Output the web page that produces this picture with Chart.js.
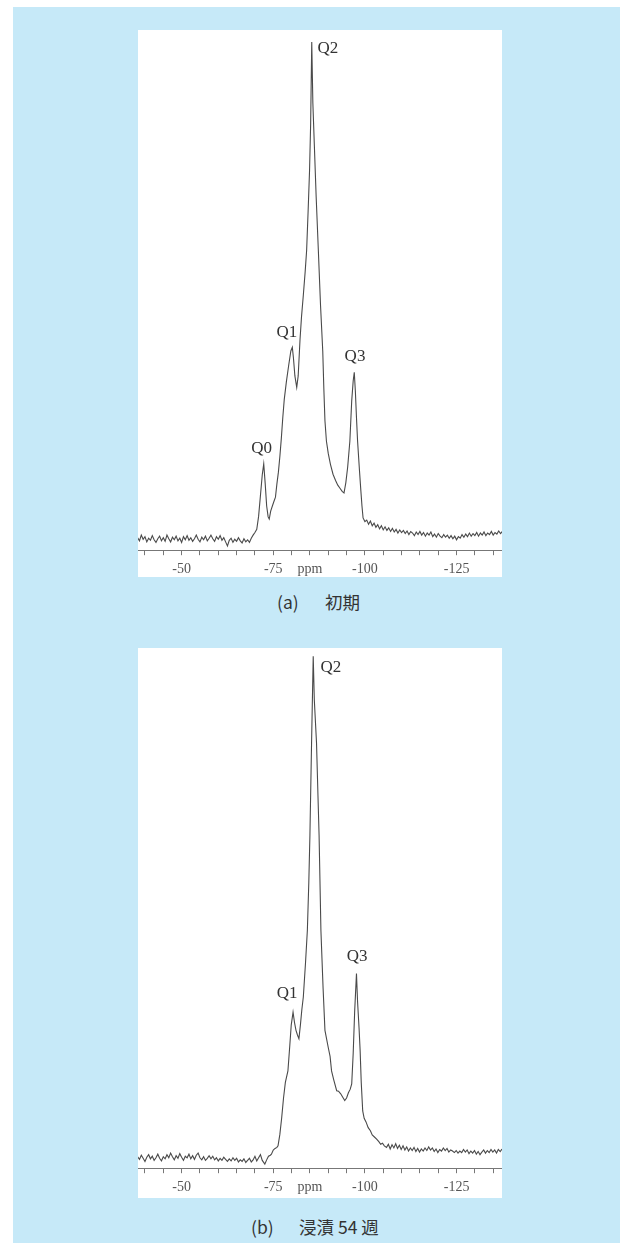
<!DOCTYPE html>
<html>
<head>
<meta charset="utf-8">
<script src="https://cdn.jsdelivr.net/npm/chart.js@4.4.1/dist/chart.umd.min.js"></script>
<style>
  body { margin: 0; width: 633px; height: 1250px; background: #fff; position: relative; overflow: hidden; }
  #bg { position: absolute; left: 13px; top: 7px; width: 607px; height: 1236px; background: #c6e9f8; }
  .panel { position: absolute; left: 138px; width: 364px; background: #fff; }
  .plot { position: absolute; left: 138px; width: 364px; }
  .cap { position: absolute; font-family: "Noto Sans CJK JP", "Noto Sans", sans-serif; font-size: 17.5px; color: #333; white-space: pre; line-height: 1; }
</style>
</head>
<body>
<div id="bg"></div>
<div class="panel" style="top:30px;height:547px"></div>
<div class="panel" style="top:648px;height:550px"></div>
<div class="plot" style="top:30px;height:556px"><canvas id="chartA"></canvas></div>
<div class="plot" style="top:648px;height:558px"><canvas id="chartB"></canvas></div>
<span class="cap" style="left:277px;top:593px">(a)</span>
<span class="cap" style="left:325px;top:593px">初期</span>
<span class="cap" style="left:251px;top:1218px">(b)</span>
<span class="cap" style="left:299px;top:1218px">浸漬 54 週</span>
<script>
// ===== 29Si NMR spectra =====

// tick labels on the ppm axis
const tickValues = [-50, -75, -85, -100, -125];
const tickTexts = ["-50", "-75", "ppm", "-100", "-125"];

// (a) initial
const ppmA = [-38.0, -38.5, -39.0, -39.5, -40.0, -40.5, -41.0, -41.5, -42.0, -42.5, -43.0, -43.5, -44.0, -44.5, -45.0, -45.5,
  -46.0, -46.5, -47.0, -47.5, -48.0, -48.5, -49.0, -49.5, -50.0, -50.5, -51.0, -51.5, -52.0, -52.5, -53.0, -53.5,
  -54.0, -54.5, -55.0, -55.5, -56.0, -56.5, -57.0, -57.5, -58.0, -58.5, -59.0, -59.5, -60.0, -60.5, -61.0, -61.5,
  -62.0, -62.5, -63.0, -63.5, -64.0, -64.5, -65.0, -65.5, -66.0, -66.5, -67.0, -67.5, -68.0, -68.5, -69.0, -69.5,
  -70.0, -70.5, -71.0, -71.5, -72.0, -72.4, -72.8, -73.2, -73.6, -73.9, -74.3, -74.8, -75.2, -75.6, -76.0, -76.4,
  -76.8, -77.2, -77.6, -78.0, -78.6, -79.2, -79.8, -80.2, -80.5, -80.9, -81.4, -81.8, -82.3, -82.7, -83.2, -83.7,
  -84.1, -84.5, -84.9, -85.2, -85.5, -85.8, -86.2, -86.7, -87.3, -87.9, -88.5, -88.8, -89.1, -89.5, -90.0, -90.6,
  -91.3, -92.0, -92.6, -93.2, -93.8, -94.3, -94.8, -95.3, -95.9, -96.4, -96.8, -97.1, -97.4, -97.7, -98.0, -98.5,
  -98.9, -99.2, -99.5, -100.0, -100.5, -101.0, -101.5, -102.0, -102.5, -103.0, -103.5, -104.0, -104.5, -105.0, -105.5,
  -106.0, -106.5, -107.0, -107.5, -108.0, -108.5, -109.0, -109.5, -110.0, -110.5, -111.0, -111.5, -112.0, -112.5,
  -113.0, -113.5, -114.0, -114.5, -115.0, -115.5, -116.0, -116.5, -117.0, -117.5, -118.0, -118.5, -119.0, -119.5,
  -120.0, -120.5, -121.0, -121.5, -122.0, -122.5, -123.0, -123.5, -124.0, -124.5, -125.0, -125.5, -126.0, -126.5,
  -127.0, -127.5, -128.0, -128.5, -129.0, -129.5, -130.0, -130.5, -131.0, -131.5, -132.0, -132.5, -133.0, -133.5,
  -134.0, -134.5, -135.0, -135.5, -136.0, -136.5, -137.0, -137.5];
const intA = [2.4, 1.8, 2.9, 2.1, 2.6, 1.6, 2.3, 1.9, 2.8, 2.0, 1.5, 2.2, 2.7, 1.8, 2.4, 1.7,
  2.9, 2.2, 1.6, 2.5, 2.0, 2.7, 1.8, 2.3, 1.5, 2.6, 2.0, 2.8, 1.9, 2.4, 1.7, 2.2,
  2.9, 2.1, 1.6, 2.5, 2.0, 2.7, 1.8, 2.3, 2.9, 2.2, 1.7, 2.6, 2.1, 2.8, 1.9, 2.4,
  1.6, 0.8, 1.9, 2.3, 1.5, 2.1, 1.7, 2.4, 1.8, 1.4, 2.2, 1.6, 2.0, 1.5, 2.3, 2.9,
  3.4, 4.0, 6.5, 10.5, 14.5, 16.6, 12.8, 8.5, 6.4, 6.0, 7.5, 8.6, 9.4, 10.2, 12.8, 15.0,
  18.0, 21.5, 25.5, 29.0, 32.5, 35.5, 38.3, 39.0, 37.0, 33.5, 31.3, 33.5, 40.5, 44.8, 49.0, 53.5,
  57.6, 65.0, 73.0, 82.0, 97.7, 86.0, 78.0, 68.0, 57.6, 47.0, 38.3, 31.0, 24.9, 21.0, 18.6, 16.5,
  14.6, 13.4, 12.5, 11.9, 11.3, 11.0, 13.0, 16.0, 21.0, 28.7, 32.5, 34.2, 30.5, 25.5, 21.0, 15.5,
  11.4, 8.5, 6.2, 5.5, 5.8, 5.0, 5.6, 4.7, 5.2, 4.4, 4.9, 4.1, 4.7, 3.9, 4.5,
  3.8, 4.3, 3.6, 4.2, 3.5, 4.0, 3.3, 3.9, 3.4, 3.8, 3.2, 3.7, 3.0, 3.6,
  3.3, 2.8, 3.5, 3.0, 3.6, 2.9, 3.4, 2.7, 3.3, 2.9, 3.5, 2.6, 3.1, 2.5,
  3.2, 2.7, 2.4, 3.0, 2.5, 2.9, 2.3, 2.8, 2.2, 2.7, 2.0, 2.6, 2.3, 3.0,
  2.5, 3.1, 2.6, 3.3, 2.7, 3.2, 2.8, 3.4, 2.7, 3.3, 2.9, 3.5, 2.8, 3.3,
  3.0, 3.6, 2.9, 3.4, 3.1, 3.7, 3.2, 3.6];
const peakNamesA = ["Q0", "Q1", "Q2", "Q3"];
const peakPpmA = [-71.8, -78.7, -89.9, -97.3];
const peakLabelA = [19.5, 41.8, 96.5, 37.2];

// (b) after 54 weeks immersion
const ppmB = [-38.0, -38.5, -39.0, -39.5, -40.0, -40.5, -41.0, -41.5, -42.0, -42.5, -43.0, -43.5, -44.0, -44.5, -45.0, -45.5,
  -46.0, -46.5, -47.0, -47.5, -48.0, -48.5, -49.0, -49.5, -50.0, -50.5, -51.0, -51.5, -52.0, -52.5, -53.0, -53.5,
  -54.0, -54.5, -55.0, -55.5, -56.0, -56.5, -57.0, -57.5, -58.0, -58.5, -59.0, -59.5, -60.0, -60.5, -61.0, -61.5,
  -62.0, -62.5, -63.0, -63.5, -64.0, -64.5, -65.0, -65.5, -66.0, -66.5, -67.0, -67.5, -68.0, -68.5, -69.0, -69.5,
  -70.0, -70.5, -71.0, -71.5, -72.0, -72.7, -73.2, -73.7, -74.2, -74.5, -75.0, -75.5, -76.0, -76.3, -76.8, -77.3,
  -77.8, -78.3, -79.0, -79.5, -79.9, -80.4, -80.8, -81.2, -81.6, -82.0, -82.4, -82.8, -83.2, -83.8, -84.3, -84.7,
  -85.0, -85.45, -85.9, -86.2, -86.8, -87.2, -87.5, -88.0, -88.6, -89.1, -90.0, -90.5, -90.9, -91.5, -92.3, -92.8,
  -93.4, -94.0, -94.5, -95.0, -95.5, -96.0, -96.4, -96.8, -97.2, -97.7, -98.0, -98.4, -98.7, -99.0, -99.4, -99.8,
  -100.3, -100.9, -101.5, -102.0, -102.6, -103.2, -103.8, -104.3, -104.8, -105.3, -105.9, -106.4, -106.9, -107.4,
  -107.9, -108.4, -108.9, -109.4, -109.9, -110.4, -110.9, -111.4, -111.9, -112.4, -112.9, -113.4, -113.9, -114.4,
  -114.9, -115.4, -115.9, -116.4, -116.9, -117.4, -117.9, -118.4, -118.9, -119.4, -119.9, -120.4, -120.9, -121.4,
  -121.9, -122.4, -122.9, -123.4, -123.9, -124.4, -124.9, -125.4, -125.9, -126.4, -126.9, -127.4, -127.9, -128.4,
  -128.9, -129.4, -129.9, -130.4, -130.9, -131.4, -131.9, -132.4, -132.9, -133.4, -133.9, -134.4, -134.9, -135.4,
  -135.9, -136.4, -136.9, -137.4];
const intB = [2.2, 1.7, 2.5, 1.9, 1.3, 2.1, 2.6, 1.8, 2.3, 1.5, 2.0, 2.7, 1.9, 1.4, 2.2, 1.8,
  2.6, 2.0, 2.9, 2.2, 1.6, 2.4, 1.9, 2.8, 2.1, 1.5, 2.3, 2.0, 2.7, 1.8, 2.4, 1.7,
  2.5, 2.9, 2.0, 1.6, 2.2, 1.5, 1.9, 2.4, 1.8, 2.3, 1.6, 2.0, 1.4, 1.9, 1.5, 2.1,
  1.7, 1.3, 1.8, 1.4, 2.0, 1.5, 1.9, 1.2, 1.6, 1.3, 1.8, 1.1, 1.5, 1.9, 1.2, 1.6,
  2.3, 1.4, 2.0, 2.6, 1.5, 0.8, 1.6, 2.3, 2.5, 2.7, 3.5, 3.8, 4.0, 4.3, 6.5, 9.7,
  13.5, 16.5, 18.7, 23.5, 27.5, 30.0, 28.0, 26.5, 25.6, 24.9, 27.5, 30.5, 32.9, 39.5, 45.7, 55.0,
  64.0, 81.8, 98.4, 90.0, 81.8, 71.5, 64.0, 45.7, 34.5, 26.5, 23.2, 21.5, 18.7, 17.0, 14.9, 14.8,
  14.3, 13.6, 13.0, 13.5, 14.5, 15.2, 16.2, 22.0, 30.0, 37.4, 32.0, 27.0, 22.6, 16.5, 11.0, 9.6,
  8.9, 7.8, 7.2, 6.4, 6.0, 5.6, 5.1, 4.6, 4.8, 4.3, 4.0, 4.6, 3.7, 4.5,
  3.9, 4.7, 3.8, 4.4, 3.6, 4.3, 3.5, 4.1, 3.3, 3.9, 3.4, 4.0, 3.2, 3.8,
  3.1, 3.7, 3.3, 3.9, 3.4, 4.1, 3.5, 3.9, 3.2, 3.7, 3.0, 3.6, 3.3, 3.9,
  3.4, 3.8, 3.1, 3.5, 3.3, 3.0, 3.4, 2.9, 3.3, 3.0, 3.6, 3.1, 3.5, 2.8,
  3.3, 2.9, 3.4, 2.7, 3.2, 2.6, 3.1, 3.5, 2.9, 3.4, 3.0, 3.6, 3.1, 3.5,
  2.9, 3.6, 3.2, 3.7];
const peakNamesB = ["Q1", "Q2", "Q3"];
const peakPpmB = [-78.8, -90.7, -97.9];
const peakLabelB = [33.5, 96.3, 40.7];

// Peak labels drawn at data positions
const peakLabelPlugin = {
  id: "peakLabels",
  afterDatasetsDraw(chart, args, opts) {
    const { ctx, scales } = chart;
    ctx.save();
    ctx.font = "17px 'Liberation Serif'";
    ctx.fillStyle = "#333";
    ctx.textAlign = "center";
    ctx.textBaseline = "middle";
    opts.names.forEach((name, i) => {
      ctx.fillText(name, scales.x.getPixelForValue(opts.ppm[i]), scales.y.getPixelForValue(opts.level[i]));
    });
    ctx.restore();
  }
};

function makeChart(id, ppm, intensity, names, namePpm, nameLevel, bottomPad) {
  return new Chart(document.getElementById(id), {
    type: "line",
    data: {
      datasets: [{
        data: ppm.map((x, i) => ({ x, y: intensity[i] })),
        borderColor: "#4a4a4a",
        borderWidth: 1.1,
        pointRadius: 0,
        tension: 0,
        fill: false
      }]
    },
    options: {
      responsive: true,
      maintainAspectRatio: false,
      animation: false,
      layout: { padding: { left: 0, right: 0, top: 0, bottom: bottomPad } },
      plugins: {
        legend: { display: false },
        tooltip: { enabled: false },
        peakLabels: { names, ppm: namePpm, level: nameLevel }
      },
      scales: {
        x: {
          type: "linear",
          min: -137.4,
          max: -38.1,
          reverse: true,
          border: { display: true, color: "#777", width: 1 },
          grid: { drawOnChartArea: false, drawTicks: true, tickLength: 5, color: "#777" },
          ticks: {
            stepSize: 5,
            includeBounds: false,
            autoSkip: false,
            maxRotation: 0,
            padding: 6,
            color: "#555",
            font: { family: "'Liberation Serif'", size: 14 },
            callback: (v) => {
              const k = tickValues.indexOf(Math.round(v));
              return k >= 0 ? tickTexts[k] : "";
            }
          }
        },
        y: { display: false, min: 0, max: 100 }
      }
    },
    plugins: [peakLabelPlugin]
  });
}

makeChart("chartA", ppmA, intA, peakNamesA, peakPpmA, peakLabelA, 2);
makeChart("chartB", ppmB, intB, peakNamesB, peakPpmB, peakLabelB, 4);
</script>
</body>
</html>
